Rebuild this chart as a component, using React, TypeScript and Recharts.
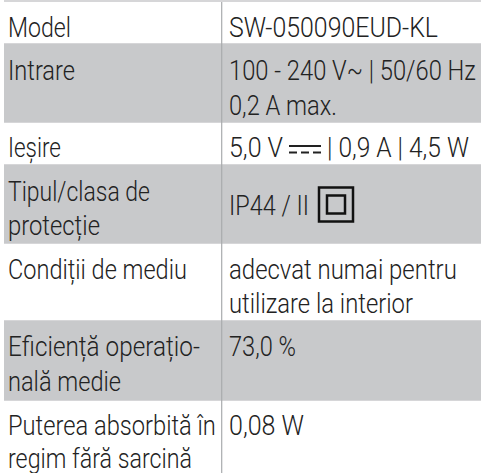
import React from "react";
import { ComposedChart, XAxis, YAxis, Scatter, ReferenceArea, ReferenceLine } from "recharts";

const W = 481;
const H = 473;
const COL_LEFT = 4;
const COL_DIV = 221.7;
const LABEL_X = 8;
const VALUE_X = 229;
const TEXT = "#222";
const BAND = "#c8c9cb";
const RULE = "#a9abad";
const FONT = "Roboto, sans-serif";
const FONT_SIZE = 27.5;
const FONT_WEIGHT = 300;

const rowEdges = [1, 44, 122, 165, 243, 321, 400, 473];
const shadedRows = [1, 3, 5];

const labelLines = ["Model", "Intrare", "Ieșire", "Tipul/clasa de", "protecție", "Condiții de mediu", "Eficiență operațio-", "nală medie", "Puterea absorbită în", "regim fără sarcină"];
const labelBaselines = [37, 80, 157, 201, 235, 279, 356, 391, 435, 468];
const labelWidths = [63, 67, 53, 142, 92, 179, 192, 113, 208, 184];

const valueLines = ["SW-050090EUD-KL", "100 - 240 V~ | 50/60 Hz", "0,2 A max.", "5,0 V", "| 0,9 A | 4,5 W", "IP44 / II", "adecvat numai pentru", "utilizare la interior", "73,0 %", "0,08 W"];
const valueBaselines = [37, 80, 115, 157, 157, 215, 279, 313, 356, 435];
const valueOffsets = [0, 0, 0, 0, 98, 0, 0, 0, 0, 0];
const valueWidths = [209, 247, 108, 54, 142, 80, 228, 184, 67, 75];

const labelData = labelLines.map((text, i) => ({ x: LABEL_X, y: labelBaselines[i], text, span: labelWidths[i] }));
const valueData = valueLines.map((text, i) => ({ x: VALUE_X + valueOffsets[i], y: valueBaselines[i], text, span: valueWidths[i] }));
const dcSymbol = [{ x: 305, y: 149 }];
const classTwoSymbol = [{ x: 336, y: 204.5 }];

const ruler = document.createElement("canvas").getContext("2d");
const xScaleFor = (text: string, span: number) => {
  if (!ruler) return 0.865;
  ruler.font = `${FONT_WEIGHT} ${FONT_SIZE}px ${FONT}`;
  return span / ruler.measureText(text).width;
};

const TextMark = (props: any) => (
  <text
    transform={`translate(${props.cx} ${props.cy}) scale(${xScaleFor(props.payload.text, props.payload.span)} 1)`}
    fill={TEXT}
    fontFamily={FONT}
    fontWeight={FONT_WEIGHT}
    fontSize={FONT_SIZE}
    textAnchor="start"
  >
    {props.payload.text}
  </text>
);

const DcMark = (props: any) => (
  <g stroke={TEXT} strokeWidth={2} fill="none">
    <line x1={props.cx - 16} x2={props.cx + 16} y1={props.cy - 3} y2={props.cy - 3} />
    <line x1={props.cx - 16} x2={props.cx + 16} y1={props.cy + 3.5} y2={props.cy + 3.5} strokeDasharray="8 4" />
  </g>
);

const ClassTwoMark = (props: any) => (
  <g stroke="#111" strokeWidth={2.5} fill="none">
    <rect x={props.cx - 17} y={props.cy - 17} width={34} height={34} />
    <rect x={props.cx - 9} y={props.cy - 9} width={18} height={18} />
  </g>
);

export default function App() {
  return (
    <div style={{ position: "absolute", left: 0, top: 0, width: W, height: H, background: "#fff" }}>
      <ComposedChart width={W} height={H} data={labelData} margin={{ top: 0, right: 0, bottom: 0, left: 0 }}>
        <XAxis type="number" dataKey="x" domain={[0, W]} hide />
        <YAxis type="number" dataKey="y" domain={[0, H]} reversed hide />
        {shadedRows.map((r) => (
          <ReferenceArea key={r} x1={COL_LEFT} x2={W} y1={rowEdges[r]} y2={rowEdges[r + 1]} fill={BAND} fillOpacity={1} stroke="none" ifOverflow="hidden" />
        ))}
        {rowEdges.slice(0, -1).map((y) => (
          <ReferenceLine key={y} segment={[{ x: COL_LEFT, y }, { x: W, y }]} stroke={BAND} strokeWidth={1.5} />
        ))}
        <ReferenceLine segment={[{ x: COL_DIV, y: 2 }, { x: COL_DIV, y: H }]} stroke={RULE} strokeWidth={1.2} />
        <Scatter data={labelData} shape={TextMark} isAnimationActive={false} />
        <Scatter data={valueData} shape={TextMark} isAnimationActive={false} />
        <Scatter data={dcSymbol} shape={DcMark} isAnimationActive={false} />
        <Scatter data={classTwoSymbol} shape={ClassTwoMark} isAnimationActive={false} />
      </ComposedChart>
    </div>
  );
}
